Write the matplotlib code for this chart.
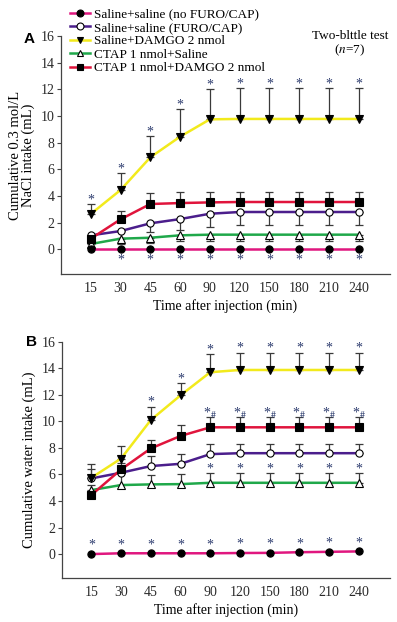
import matplotlib
matplotlib.use("Agg")
import matplotlib.pyplot as plt
import numpy as np
from matplotlib.lines import Line2D

plt.rcParams['font.family'] = ['Liberation Serif', 'DejaVu Serif']
plt.rcParams['mathtext.fontset'] = 'stix'

times = ['15', '30', '45', '60', '90', '120', '150', '180', '210', '240']
labels = ['Saline+saline (no FURO/CAP)', 'Saline+saline (FURO/CAP)',
          'Saline+DAMGO 2 nmol', 'CTAP 1 nmol+Saline', 'CTAP 1 nmol+DAMGO 2 nmol']

# Panel A: cumulative 0.3 mol/L NaCl intake
a_pink = [0.0, 0.0, 0.0, 0.0, 0.0, 0.0, 0.0, 0.0, 0.0, 0.0]
a_purple = [1.05, 1.37, 1.95, 2.27, 2.67, 2.8, 2.8, 2.8, 2.8, 2.8]
a_purple_err = [0.2, 0.5, 0.65, 0.85, 1.0, 1.0, 1.0, 1.0, 1.0, 1.0]
a_yellow = [2.65, 4.45, 6.9, 8.45, 9.75, 9.78, 9.78, 9.78, 9.78, 9.78]
a_yellow_err = [0.72, 1.3, 1.6, 2.05, 2.25, 2.3, 2.3, 2.3, 2.3, 2.3]
a_green = [0.4, 0.8, 0.87, 1.05, 1.1, 1.1, 1.1, 1.1, 1.1, 1.1]
a_green_err = [0.2, 0.4, 0.4, 0.4, 0.45, 0.45, 0.45, 0.45, 0.45, 0.45]
a_red = [0.8, 2.25, 3.4, 3.47, 3.52, 3.55, 3.55, 3.55, 3.55, 3.55]
a_red_err = [0.1, 0.65, 0.8, 0.8, 0.77, 0.75, 0.75, 0.75, 0.75, 0.75]

# Panel B: cumulative water intake
b_pink = [0.0, 0.06, 0.06, 0.06, 0.06, 0.08, 0.09, 0.14, 0.17, 0.2]
b_purple = [5.7, 6.13, 6.63, 6.8, 7.53, 7.6, 7.6, 7.6, 7.6, 7.6]
b_purple_err = [0.7, 0.5, 0.73, 0.76, 0.74, 0.7, 0.7, 0.7, 0.7, 0.7]
b_yellow = [5.75, 7.2, 10.1, 11.96, 13.7, 13.87, 13.87, 13.87, 13.87, 13.87]
b_yellow_err = [1.0, 0.95, 1.0, 0.9, 1.35, 1.3, 1.3, 1.3, 1.3, 1.3]
b_green = [4.82, 5.2, 5.25, 5.27, 5.37, 5.37, 5.37, 5.37, 5.37, 5.37]
b_green_err = [0.4, 0.88, 0.7, 0.73, 0.71, 0.71, 0.71, 0.71, 0.71, 0.71]
b_red = [4.45, 6.38, 7.96, 8.9, 9.55, 9.55, 9.55, 9.55, 9.55, 9.55]
b_red_err = [0.3, 0.5, 0.64, 0.85, 0.8, 0.8, 0.8, 0.8, 0.8, 0.8]

colors = ['#e0177f', '#4b1e8c', '#f2ea1c', '#1fa84a', '#e0143c']
markers = ['o', 'o', 'v', '^', 's']
mfcs = ['black', 'white', 'black', 'white', 'black']
star_color = '#2c3b6e'
err_color = '#3a3a3a'

W, H = 397, 622
fig = plt.figure(figsize=(W / 100, H / 100), dpi=100)


def px_axes(left, top, right, bottom):
    return fig.add_axes([left / W, 1 - bottom / H, (right - left) / W, (bottom - top) / H])


def draw_series(ax, x, y, color, marker, mfc, err=None, direction='up'):
    if err is not None:
        err = np.asarray(err)
        zeros = np.zeros_like(err)
        yerr = [zeros, err] if direction == 'up' else [err, zeros]
        ax.errorbar(x, y, yerr=yerr, fmt='none', ecolor=err_color, elinewidth=0.9,
                    capsize=2.6, capthick=0.9, zorder=2)
    ax.plot(x, y, color=color, lw=1.8, zorder=3)
    ax.plot(x, y, ls='none', marker=marker, ms=5.2, mfc=mfc, mec='black', mew=0.8, zorder=4)


def style_axes(ax, ylim, ylabel):
    ax.set_xlim(-1, 10.05)
    ax.set_ylim(*ylim)
    ax.spines['top'].set_visible(False)
    ax.spines['right'].set_visible(False)
    ax.spines['left'].set_bounds(ylim[0], 16)
    for s in ['left', 'bottom']:
        ax.spines[s].set_linewidth(0.9)
        ax.spines[s].set_color('#444444')
    ax.set_yticks(np.arange(0, 17, 2))
    ax.set_xticks(np.arange(len(times)))
    ax.set_xticklabels(times)
    ax.tick_params(axis='y', length=3, width=0.8, direction='out', labelsize=10, pad=1.5,
                   colors='#444444', labelcolor='#2a2a2a')
    ax.tick_params(axis='x', length=0, labelsize=10, pad=6, labelcolor='#2a2a2a')
    ax.set_xlabel('Time after injection (min)', fontsize=10, labelpad=3)
    ax.set_ylabel(ylabel, fontsize=10.5, labelpad=4, linespacing=1.0)


def star(ax, x, y, s='*'):
    ax.text(x, y, s, ha='center', va='center', fontsize=10, color=star_color, zorder=5)


x = np.arange(len(times))

# ---------- Panel A ----------
axA = px_axes(61, 36, 390, 274)
draw_series(axA, x, a_green, colors[3], markers[3], mfcs[3], a_green_err, 'down')
draw_series(axA, x, a_purple, colors[1], markers[1], mfcs[1], a_purple_err, 'down')
draw_series(axA, x, a_red, colors[4], markers[4], mfcs[4], a_red_err, 'up')
draw_series(axA, x, a_yellow, colors[2], markers[2], mfcs[2], a_yellow_err, 'up')
draw_series(axA, x, a_pink, colors[0], markers[0], mfcs[0])
style_axes(axA, (-1.85, 16), 'Cumulative 0.3 mol/L\nNaCl intake (mL)')
for i in range(len(times)):
    star(axA, x[i], a_yellow[i] + a_yellow_err[i] + 0.3)
for i in range(1, len(times)):
    star(axA, x[i], a_pink[i] - 0.8)

# ---------- Panel B ----------
axB = px_axes(61.7, 341.7, 390, 577.7)
draw_series(axB, x, b_green, colors[3], markers[3], mfcs[3], b_green_err, 'up')
draw_series(axB, x, b_purple, colors[1], markers[1], mfcs[1], b_purple_err, 'up')
draw_series(axB, x, b_red, colors[4], markers[4], mfcs[4], b_red_err, 'up')
draw_series(axB, x, b_yellow, colors[2], markers[2], mfcs[2], b_yellow_err, 'up')
draw_series(axB, x, b_pink, colors[0], markers[0], mfcs[0])
style_axes(axB, (-1.78, 16), 'Cumulative water intake (mL)')
for i in range(2, len(times)):
    star(axB, x[i], b_yellow[i] + b_yellow_err[i] + 0.35)
for i in range(4, len(times)):
    star(axB, x[i], b_red[i] + b_red_err[i] + 0.25, '*$_{\\#}$')
    star(axB, x[i], b_green[i] + b_green_err[i] + 0.3)
for i in range(len(times)):
    star(axB, x[i], b_pink[i] + 0.65)

# panel letters and annotation
fig.text(24 / W, 1 - 39 / H, 'A', family='Liberation Sans', fontweight='bold', fontsize=11,
         ha='left', va='center')
fig.text(26 / W, 1 - 342 / H, 'B', family='Liberation Sans', fontweight='bold', fontsize=11,
         ha='left', va='center')
fig.text(350 / W, 1 - 36 / H, 'Two-blttle test', fontsize=9.5, ha='center', va='center')
fig.text(350 / W, 1 - 50 / H, '($n$=7)', fontsize=9.5, ha='center', va='center')

# legend
handles = [Line2D([0], [0], color=c, lw=1.8, marker=m, ms=5, mfc=f, mec='black', mew=0.8)
           for c, m, f in zip(colors, markers, mfcs)]
fig.legend(handles, labels, loc='upper left', bbox_to_anchor=(70 / W, 1 - 8 / H),
           frameon=False, fontsize=9.5, handlelength=1.5, handletextpad=0.3,
           labelspacing=0.1, borderpad=0, borderaxespad=0)

fig.savefig('out.png', dpi=100)
